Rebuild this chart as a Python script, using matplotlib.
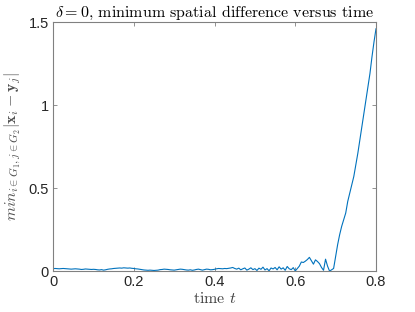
import numpy as np
import matplotlib
matplotlib.use("Agg")
import matplotlib.pyplot as plt

plt.rcParams['mathtext.fontset'] = 'cm'

dist_a = [0.015,0.016,0.015,0.014,0.015,0.016,0.015,0.014,0.013,0.012,
          0.013,0.014,0.013,0.012,0.010,0.011,0.013,0.012,0.011,0.010,
          0.011,0.010,0.008,0.007,0.009,0.006,0.008,0.011,0.013,0.014,
          0.016,0.017,0.018,0.019,0.018,0.020,0.019,0.018,0.019,0.017,
          0.016,0.014,0.013,0.011,0.009,0.007,0.006,0.005,0.006,0.005,
          0.004,0.005,0.006,0.009,0.010,0.012,0.011,0.010,0.008,0.007,
          0.006,0.008,0.010,0.012,0.011,0.009,0.007,0.006,0.008,0.005,
          0.007,0.010,0.012,0.009,0.006,0.009,0.012,0.011,0.008,0.009,
          0.011,0.014,0.016,0.015,0.014,0.016,0.015,0.017,0.019,0.022,
          0.016,0.012,0.018,0.008,0.014,0.019,0.006,0.012,0.020,0.009,
          0.015]
dist_b = [0.004,0.018,0.011,0.024,0.007,0.015,0.002,0.019,0.013,0.022,
          0.008,0.026,0.012,0.020,0.005,0.028,0.014,0.009,0.021,0.001]
dist_c = [0.015,0.030,0.055,0.052,0.060,0.070,0.083,0.062,0.042,0.068,
          0.058,0.045,0.022,0.005,0.072,0.030,0.000,0.008,0.016,0.090]
dist_d = [0.16,0.22,0.27,0.31,0.35,0.42,0.47,0.52,0.57,0.64,
          0.71,0.79,0.87,0.95,1.03,1.11,1.19,1.29,1.38,1.46]
dist = dist_a + dist_b + dist_c + dist_d
t = np.linspace(0, 0.8, len(dist))

xticks = [0, 0.2, 0.4, 0.6, 0.8]
xticklabels = ['0', '0.2', '0.4', '0.6', '0.8']
yticks = [0, 0.5, 1, 1.5]
yticklabels = ['0', '0.5', '1', '1.5']

fig = plt.figure(figsize=(4.15, 3.12), dpi=100)
ax = fig.add_axes([0.128, 0.131, 0.778, 0.798])
ax.plot(t, dist, color='#0072BD', lw=0.8)
ax.set_xlim(0, 0.8)
ax.set_ylim(0, 1.5)
ax.set_xticks(xticks)
ax.set_xticklabels(xticklabels, family='Liberation Sans', fontsize=10.5)
ax.set_yticks(yticks)
ax.set_yticklabels(yticklabels, family='Liberation Sans', fontsize=10.5)
gray = '#262626'
for s in ax.spines.values():
    s.set_color('#808080')
    s.set_linewidth(0.8)
ax.tick_params(direction='in', top=True, right=True, length=3, width=0.6,
               colors='#808080', labelcolor=gray, pad=3)
ax.set_title(r'$\delta=0$, minimum spatial difference versus time',
             family='cmr10', fontsize=11.5, color='#000000', pad=4)
ax.set_xlabel(r'time $t$', family='cmr10', fontsize=11.5, color='#404040', labelpad=1)
ax.set_ylabel(r'$min_{i\in G_1,j\in G_2}|\mathbf{x}_i-\mathbf{y}_j|$',
              fontsize=11.5, color='#505050', labelpad=4)
fig.savefig('out.png', dpi=100)
